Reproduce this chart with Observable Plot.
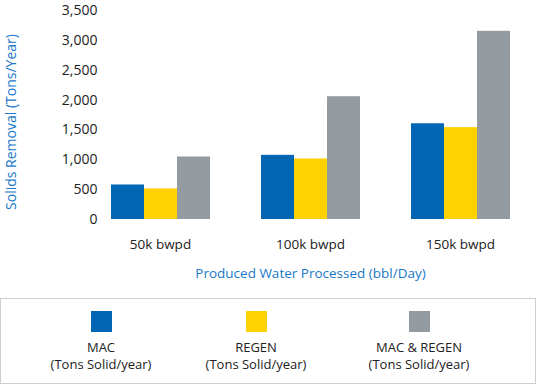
<!DOCTYPE html>
<html><head><meta charset="utf-8">
<script src="https://cdn.jsdelivr.net/npm/d3@7"></script>
<script src="https://cdn.jsdelivr.net/npm/@observablehq/plot@0.6"></script>
<style>
body{margin:0;background:#fff;font-family:"Open Sans",sans-serif;}
#chart svg{display:block;overflow:visible;}
#legend{position:relative;box-sizing:border-box;width:536px;height:86px;border:1px solid #cfcfcf;margin-top:0;}
.item{position:absolute;top:12px;width:170px;margin-left:-85px;text-align:center;font-size:13px;line-height:17px;color:#222;}
.sw{width:21px;height:21px;margin:0 auto 7px auto;}
</style></head>
<body>
<div id="chart"></div>
<div id="legend"></div>
<script>
const categories = ["50k bwpd", "100k bwpd", "150k bwpd"];
const series = ["MAC", "REGEN", "MAC & REGEN"];
const mac = [578, 1074, 1603];
const regen = [512, 1014, 1538];
const macRegen = [1047, 2056, 3152];
const yTicks = [0, 500, 1000, 1500, 2000, 2500, 3000, 3500];
const colors = ["#0066b3", "#ffd100", "#949ba0"];
const legendUnit = "(Tons Solid/year)";
const yLabel = "Solids Removal (Tons/Year)";
const xLabel = "Produced Water Processed (bbl/Day)";

const values = [mac, regen, macRegen];
const data = [];
categories.forEach((c, i) => series.forEach((s, j) => data.push({category: c, series: s, value: values[j][i]})));

const chart = Plot.plot({
  width: 536,
  height: 298,
  marginTop: 10,
  marginBottom: 79,
  marginLeft: 85,
  marginRight: 1,
  style: {fontFamily: "'Open Sans', sans-serif", fontSize: "14px", color: "#222", background: "#fff", overflow: "visible"},
  fx: {domain: categories, paddingInner: 1/3, paddingOuter: 1/6},
  x: {domain: series, padding: 0, axis: null},
  y: {domain: [0, 3500]},
  color: {domain: series, range: colors},
  marks: [
    Plot.gridY(yTicks, {stroke: "#d2d2d2", strokeOpacity: 1, strokeWidth: 1.5, x1: 85, x2: 535}),
    Plot.barY(data, {fx: "category", x: "series", y: "value", fill: "series"}),
    Plot.axisY({ticks: yTicks, tickFormat: d3.format(","), tickSize: 0, tickPadding: 13, label: yLabel, labelArrow: "none", labelAnchor: "center", labelOffset: 104, fill: "#222", fontSize: 14}),
    Plot.axisFx({anchor: "bottom", tickSize: 0, tickPadding: 20, label: xLabel, labelArrow: "none", labelAnchor: "center", labelOffset: 58, fontSize: 13.5})
  ]
});
document.getElementById("chart").appendChild(chart);
chart.querySelectorAll("g[aria-label='y-axis label'], g[aria-label='fx-axis label']").forEach(g => {
  g.setAttribute("fill", "#1a78c8");
  g.querySelectorAll("text").forEach(t => { t.setAttribute("fill", "#1a78c8"); t.textContent = t.textContent.replace(/\s*[→↑↓←]\s*/g, ""); });
});
const yl = chart.querySelector("g[aria-label='y-axis label']");
if (yl) yl.setAttribute("transform", (yl.getAttribute("transform") || "") + " translate(0,7)");

const legend = document.getElementById("legend");
const centers = [100, 255, 418];
series.forEach((s, i) => {
  const d = document.createElement("div");
  d.className = "item";
  d.style.left = centers[i] + "px";
  d.innerHTML = `<div class="sw" style="background:${colors[i]}"></div><div>${s.replace("&", "&amp;")}</div><div>${legendUnit}</div>`;
  legend.appendChild(d);
});
</script>
</body></html>
